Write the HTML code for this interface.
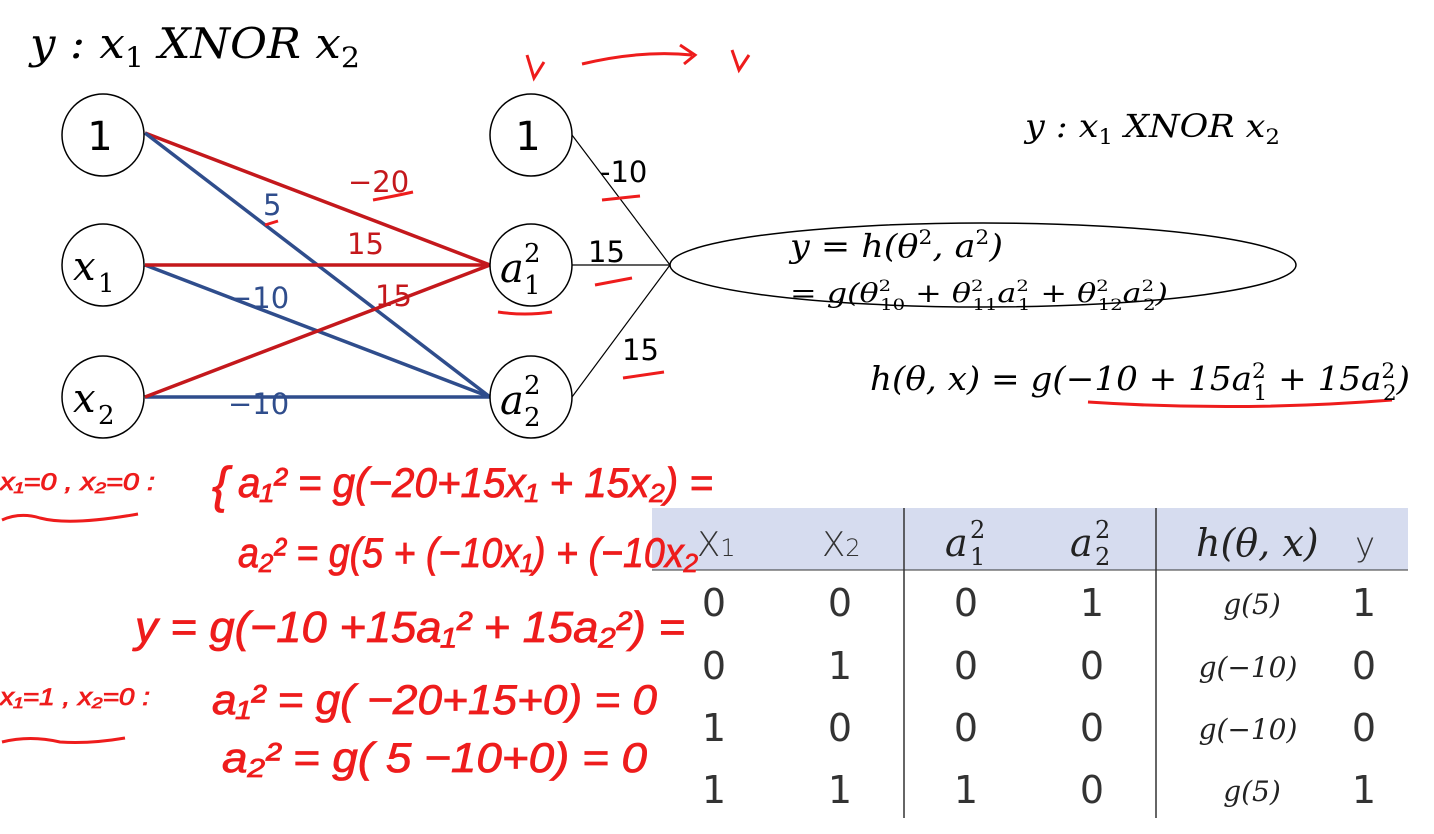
<!DOCTYPE html>
<html><head><meta charset="utf-8"><style>
body{margin:0;background:#fff;}
svg{display:block}
.m{font-family:"DejaVu Serif","Liberation Serif",serif;font-style:italic}
.n{font-family:"DejaVu Serif","Liberation Serif",serif}
.s{font-family:"DejaVu Sans","Liberation Sans",sans-serif}
.h{font-family:"Liberation Sans",sans-serif;font-style:italic;fill:#ee1c1c;stroke:#ee1c1c;stroke-width:0.8}
</style></head><body>
<svg width="1434" height="834" viewBox="0 0 1434 834" xmlns="http://www.w3.org/2000/svg">
<rect width="1434" height="834" fill="#fff"/>
<text x="30" y="58" class="m" font-size="42" textLength="330" lengthAdjust="spacingAndGlyphs">y : x<tspan font-size="28" dy="9" font-style="normal">1</tspan><tspan dy="-9"> XNOR x</tspan><tspan font-size="28" dy="9" font-style="normal">2</tspan></text>
<path d="M527 55 L534 78 L544 62 M582 64 Q640 50 692 55 M680 45 L695 55 L684 64 M732 50 L739 70 L749 55" stroke="#ee1c1c" stroke-width="3" fill="none"/>
<g stroke-width="3.5">
<line x1="145" y1="133" x2="490" y2="265" stroke="#c4181c"/>
<line x1="145" y1="133" x2="490" y2="397" stroke="#2f4d8c"/>
<line x1="145" y1="265" x2="490" y2="397" stroke="#2f4d8c"/>
<line x1="145" y1="397" x2="490" y2="397" stroke="#2f4d8c"/>
<line x1="145" y1="265" x2="490" y2="265" stroke="#c4181c"/>
<line x1="145" y1="397" x2="490" y2="265" stroke="#c4181c"/>
</g>
<g stroke="#000" stroke-width="1.2">
<line x1="572" y1="135" x2="670" y2="265"/>
<line x1="572" y1="265" x2="670" y2="265"/>
<line x1="572" y1="397" x2="670" y2="265"/>
</g>
<g fill="#fff" stroke="#000" stroke-width="1.5">
<circle cx="103" cy="135" r="41"/><circle cx="103" cy="265" r="41"/><circle cx="103" cy="397" r="41"/>
<circle cx="531" cy="135" r="41"/><circle cx="531" cy="265" r="41"/><circle cx="531" cy="397" r="41"/>
<ellipse cx="983" cy="265" rx="313" ry="42"/>
</g>
<g class="s" font-size="40" text-anchor="middle"><text x="100" y="150">1</text><text x="528" y="150">1</text></g>
<g class="m" font-size="40">
<text x="73" y="280">x</text><text x="73" y="412">x</text>
<text x="500" y="282">a</text><text x="500" y="414">a</text>
</g>
<g class="n" font-size="26">
<text x="98" y="292">1</text><text x="98" y="424">2</text>
<text x="524" y="262">2</text><text x="524" y="294">1</text>
<text x="524" y="394">2</text><text x="524" y="426">2</text>
</g>
<g class="s" font-size="29">
<text x="348" y="192" fill="#c4181c">−20</text>
<text x="263" y="215" fill="#2f4d8c">5</text>
<text x="347" y="254" fill="#c4181c">15</text>
<text x="228" y="308" fill="#2f4d8c">−10</text>
<text x="375" y="306" fill="#c4181c">15</text>
<text x="228" y="414" fill="#2f4d8c">−10</text>
<text x="600" y="182" fill="#000">-10</text>
<text x="588" y="262" fill="#000">15</text>
<text x="622" y="360" fill="#000">15</text>
</g>
<g stroke="#ee1c1c" stroke-width="3" fill="none">
<path d="M373 200 Q395 196 413 192"/><path d="M265 225 L278 221"/><path d="M498 312 Q525 316 552 312"/>
<path d="M602 200 L640 196"/><path d="M595 285 L632 278"/><path d="M623 378 L664 372"/>
<path d="M1088 402 Q1240 412 1392 400"/>
<path d="M2 520 Q20 512 40 518 Q70 526 138 514"/><path d="M2 742 Q30 735 60 742 Q90 744 125 738"/>
</g>
<text x="1025" y="137" class="m" font-size="32" textLength="255" lengthAdjust="spacingAndGlyphs">y :  x<tspan font-size="21" dy="7" font-style="normal">1</tspan><tspan dy="-7"> XNOR x</tspan><tspan font-size="21" dy="7" font-style="normal">2</tspan></text>
<text x="790" y="257" class="m" font-size="32" textLength="213" lengthAdjust="spacingAndGlyphs">y = h(θ<tspan font-size="20" dy="-13" font-style="normal">2</tspan><tspan dy="13">, a</tspan><tspan font-size="20" dy="-13" font-style="normal">2</tspan><tspan dy="13">)</tspan></text>
<text x="790" y="302" class="m" font-size="26" textLength="378" lengthAdjust="spacingAndGlyphs">= g(θ<tspan font-size="16" font-style="normal" dy="-11">2</tspan><tspan font-size="16" font-style="normal" dx="-9" dy="19">10</tspan><tspan dy="-8"> + θ</tspan><tspan font-size="16" font-style="normal" dy="-11">2</tspan><tspan font-size="16" font-style="normal" dx="-9" dy="19">11</tspan><tspan dy="-8">a</tspan><tspan font-size="16" font-style="normal" dy="-11">2</tspan><tspan font-size="16" font-style="normal" dx="-9" dy="19">1</tspan><tspan dy="-8"> + θ</tspan><tspan font-size="16" font-style="normal" dy="-11">2</tspan><tspan font-size="16" font-style="normal" dx="-9" dy="19">12</tspan><tspan dy="-8">a</tspan><tspan font-size="16" font-style="normal" dy="-11">2</tspan><tspan font-size="16" font-style="normal" dx="-9" dy="19">2</tspan><tspan dy="-8">)</tspan></text>
<text x="870" y="390" class="m" font-size="33" textLength="540" lengthAdjust="spacingAndGlyphs">h(θ, x) = g(−10 + 15a<tspan font-size="21" font-style="normal" dy="-12">2</tspan><tspan font-size="21" font-style="normal" dx="-12" dy="22">1</tspan><tspan dy="-10"> + 15a</tspan><tspan font-size="21" font-style="normal" dy="-12">2</tspan><tspan font-size="21" font-style="normal" dx="-12" dy="22">2</tspan><tspan dy="-10">)</tspan></text>
<rect x="652" y="508" width="756" height="62" fill="#d6dcef"/>
<line x1="652" y1="570" x2="1408" y2="570" stroke="#333" stroke-width="1"/>
<line x1="904" y1="508" x2="904" y2="818" stroke="#333" stroke-width="1.5"/>
<line x1="1156" y1="508" x2="1156" y2="818" stroke="#333" stroke-width="1.5"/>
<g class="s" font-size="34" fill="#333" font-weight="300">
<text x="697" y="556">X<tspan font-size="24">1</tspan></text><text x="822" y="556">X<tspan font-size="24">2</tspan></text>
<text x="1355" y="556">y</text>
</g>
<g class="m" font-size="38" fill="#222">
<text x="945" y="556">a</text><text x="1070" y="556">a</text>
<text x="1196" y="556">h(θ, x)</text>
</g>
<g class="n" font-size="24" fill="#222">
<text x="970" y="538">2</text><text x="970" y="565">1</text>
<text x="1095" y="538">2</text><text x="1095" y="565">2</text>
</g>
<g class="s" font-size="38" fill="#333" text-anchor="middle">
<text x="714" y="616">0</text><text x="840" y="616">0</text><text x="966" y="616">0</text><text x="1092" y="616">1</text><text x="1364" y="616">1</text>
<text x="714" y="679">0</text><text x="840" y="679">1</text><text x="966" y="679">0</text><text x="1092" y="679">0</text><text x="1364" y="679">0</text>
<text x="714" y="741">1</text><text x="840" y="741">0</text><text x="966" y="741">0</text><text x="1092" y="741">0</text><text x="1364" y="741">0</text>
<text x="714" y="803">1</text><text x="840" y="803">1</text><text x="966" y="803">1</text><text x="1092" y="803">0</text><text x="1364" y="803">1</text>
</g>
<g class="m" font-size="28" fill="#222" text-anchor="middle">
<text x="1252" y="614">g(5)</text><text x="1248" y="677">g(−10)</text><text x="1248" y="739">g(−10)</text><text x="1252" y="801">g(5)</text>
</g>
<g class="h">
<text x="0" y="490" font-size="24" textLength="155" lengthAdjust="spacingAndGlyphs">x₁=0 , x₂=0 :</text>
<text x="212" y="502" font-size="50">{</text>
<text x="238" y="497" font-size="42" textLength="475" lengthAdjust="spacingAndGlyphs">a₁² = g(−20+15x₁ + 15x₂) =</text>
<text x="238" y="567" font-size="42" textLength="460" lengthAdjust="spacingAndGlyphs">a₂² = g(5 + (−10x₁) + (−10x₂</text>
<text x="135" y="642" font-size="44" textLength="550" lengthAdjust="spacingAndGlyphs">y = g(−10 +15a₁² + 15a₂²) =</text>
<text x="0" y="705" font-size="24" textLength="150" lengthAdjust="spacingAndGlyphs">x₁=1 , x₂=0 :</text>
<text x="212" y="714" font-size="42" textLength="445" lengthAdjust="spacingAndGlyphs">a₁² = g( −20+15+0) =  0</text>
<text x="222" y="772" font-size="42" textLength="425" lengthAdjust="spacingAndGlyphs">a₂² = g( 5 −10+0) = 0</text>
</g>
</svg>
</body></html>
